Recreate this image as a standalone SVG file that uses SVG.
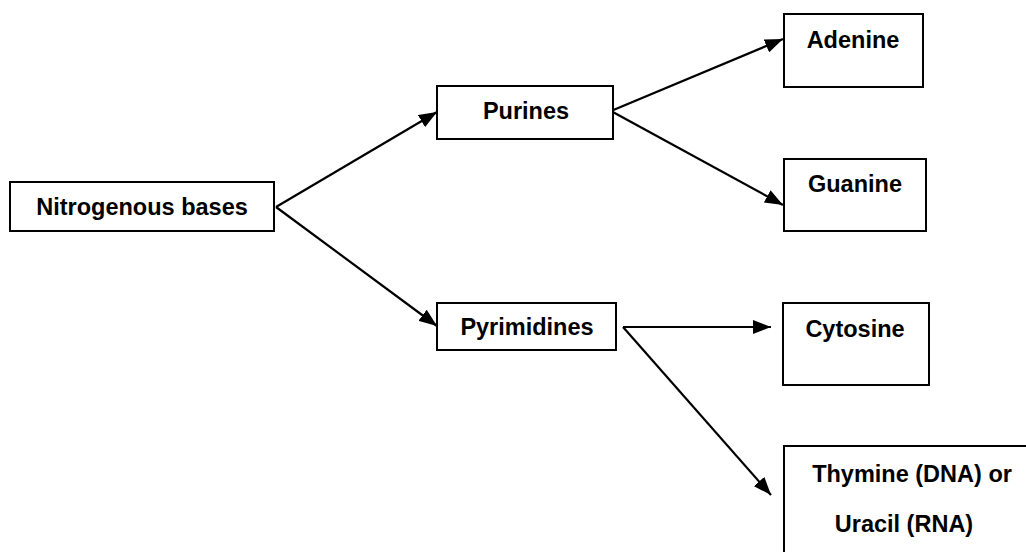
<svg xmlns="http://www.w3.org/2000/svg" width="1026" height="552" viewBox="0 0 1026 552">
<style>
.box{fill:#fff;stroke:#000;stroke-width:2}
.lbl{font-family:"Liberation Sans",Arial,sans-serif;font-weight:bold;font-size:23.5px;fill:#000;text-anchor:middle}
.con{fill:none;stroke:#000;stroke-width:2.2}
</style>
<defs>
<marker id="arr" viewBox="0 0 18 14" refX="18" refY="7" markerWidth="18" markerHeight="14" markerUnits="userSpaceOnUse" orient="auto">
<path d="M0,0 L18,7 L0,14 Z" fill="#000"/>
</marker>
</defs>
<rect width="1026" height="552" fill="#fff"/>
<g id="connectors">
<path class="con" d="M276,207 L437,112" marker-end="url(#arr)"/>
<path class="con" d="M276,207 L437,326" marker-end="url(#arr)"/>
<path class="con" d="M611,111 L783,39" marker-end="url(#arr)"/>
<path class="con" d="M611,111 L783,205" marker-end="url(#arr)"/>
<path class="con" d="M623,327 L771,327" marker-end="url(#arr)"/>
<path class="con" d="M623,327 L771,495" marker-end="url(#arr)"/>
</g>
<g id="node-nitrogenous">
<rect class="box" x="10" y="182" width="264" height="49"/>
<text class="lbl" x="142" y="215">Nitrogenous bases</text>
</g>
<g id="node-purines">
<rect class="box" x="437" y="86" width="176" height="53"/>
<text class="lbl" x="526" y="119">Purines</text>
</g>
<g id="node-pyrimidines">
<rect class="box" x="437" y="303" width="179" height="47"/>
<text class="lbl" x="527" y="335">Pyrimidines</text>
</g>
<g id="node-adenine">
<rect class="box" x="784" y="14" width="139" height="73"/>
<text class="lbl" x="853" y="48">Adenine</text>
</g>
<g id="node-guanine">
<rect class="box" x="784" y="159" width="142" height="72"/>
<text class="lbl" x="855" y="192">Guanine</text>
</g>
<g id="node-cytosine">
<rect class="box" x="783" y="303" width="146" height="82"/>
<text class="lbl" x="855" y="337">Cytosine</text>
</g>
<g id="node-thymine">
<rect class="box" x="784" y="446" width="250" height="120"/>
<text class="lbl" x="912" y="482">Thymine (DNA) or</text>
<text class="lbl" x="904" y="532">Uracil (RNA)</text>
</g>
</svg>
